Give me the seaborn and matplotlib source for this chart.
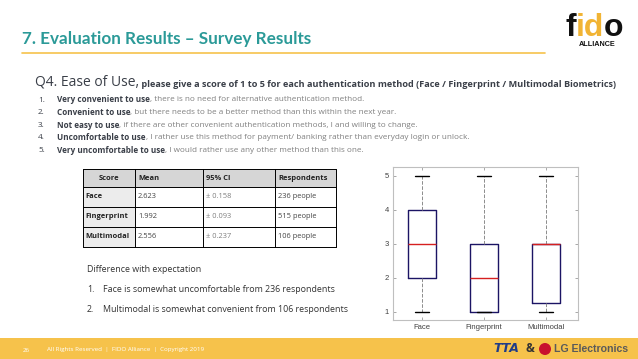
import numpy as np
import pandas as pd
import matplotlib.pyplot as plt
import seaborn as sns
from matplotlib.patches import Rectangle, Circle

# survey data
methods = ["Face", "Fingerprint", "Multimodal"]
means = ["2.623", "1.992", "2.556"]
ci = ["\u00b1 0.158", "\u00b1 0.093", "\u00b1 0.237"]
respondents = [236, 515, 106]

# five-number summaries of the box plot: min, Q1, median, Q3, max
face_scores = [1, 2, 3, 4, 5]
fingerprint_scores = [1, 1, 2, 3, 5]
multimodal_scores = [1, 1.25, 3, 3, 5]

score_labels = [
    ("Very convenient to use", ", there is no need for alternative authentication method."),
    ("Convenient to use", ", but there needs to be a better method than this within the next year."),
    ("Not easy to use", ", if there are other convenient authentication methods, I and willing to change."),
    ("Uncomfortable to use", ", I rather use this method for payment/ banking rather than everyday login or unlock."),
    ("Very uncomfortable to use", ", I would rather use any other method than this one."),
]

sns.set_style("white")
plt.rcParams["font.family"] = ["Open Sans", "DejaVu Sans"]

TEAL = "#2b9a98"
GOLD = "#f6c24b"
DARK = "#3a3f48"
GRAY = "#808080"

fig = plt.figure(figsize=(6.38, 3.59), dpi=100)
bg = fig.add_axes([0, 0, 1, 1])
bg.set_xlim(0, 638)
bg.set_ylim(359, 0)
bg.axis("off")


def run_text(x, y, parts, va="bottom"):
    # write pieces of text one after the other on a line
    prev = None
    for txt, kw in parts:
        if prev is None:
            prev = bg.text(x, y, txt, va=va, ha="left", **kw)
        else:
            prev = bg.annotate(txt, xy=(1, 0), xycoords=prev, va="bottom", ha="left", **kw)
    return prev


# header
bg.text(22, 39, "7. Evaluation Results \u2013 Survey Results", color=TEAL, fontsize=12.3,
        family="Lato", fontweight="bold", va="center", ha="left")
bg.plot([22, 545], [53, 53], color=GOLD, lw=1.2)

# fido logo
logo = dict(fontsize=23, fontweight="bold", family="Liberation Sans")
run_text(565, 43, [("f", dict(color="#111111", **logo)),
                   ("id", dict(color="#f1b434", **logo)),
                   ("o", dict(color="#111111", **logo))])
bg.text(597, 45, "ALLIANCE", fontsize=5.2, fontweight="bold", family="Liberation Sans",
        ha="center", va="center", color="#111111")

# question
run_text(35, 89, [("Q4. Ease of Use,", dict(color=DARK, fontsize=10)),
                  (" please give a score of 1 to 5 for each authentication method (Face / Fingerprint / Multimodal Biometrics)",
                   dict(color=DARK, fontsize=6.55, fontweight="bold"))])

for i, (bold, rest) in enumerate(score_labels):
    y = 100 + i * 12.6
    bg.text(38, y, f"{i + 1}.", fontsize=5.9, color=DARK, va="center", ha="left")
    t = bg.text(57, y, bold, fontsize=5.9, color=DARK, fontweight="bold", va="center", ha="left")
    bg.annotate(rest, xy=(1, 0.5), xycoords=t, fontsize=5.9, color=GRAY, va="center", ha="left")

# table
col_x = [83, 135, 203, 275, 336]
row_y = [169, 187, 207, 227, 247]
bg.add_patch(Rectangle((col_x[0], row_y[0]), col_x[-1] - col_x[0], row_y[1] - row_y[0],
                       facecolor="#d6d6d6", edgecolor="none"))
bg.add_patch(Rectangle((col_x[0], row_y[1]), col_x[1] - col_x[0], row_y[-1] - row_y[1],
                       facecolor="#ececec", edgecolor="none"))
for x in col_x:
    bg.plot([x, x], [row_y[0], row_y[-1]], color="black", lw=0.7)
for y in row_y:
    bg.plot([col_x[0], col_x[-1]], [y, y], color="black", lw=0.7)

headers = ["Score", "Mean", "95% CI", "Respondents"]
for j, h in enumerate(headers):
    if j == 0:
        bg.text((col_x[0] + col_x[1]) / 2, (row_y[0] + row_y[1]) / 2, h, fontsize=5.4,
                fontweight="bold", ha="center", va="center", color="#222222")
    else:
        bg.text(col_x[j] + 3, (row_y[0] + row_y[1]) / 2, h, fontsize=5.4,
                fontweight="bold", ha="left", va="center", color="#222222")
for i, m in enumerate(methods):
    yc = (row_y[i + 1] + row_y[i + 2]) / 2
    bg.text(col_x[0] + 2, yc, m, fontsize=5.4, fontweight="bold", ha="left", va="center", color="#222222")
    bg.text(col_x[1] + 3, yc, means[i], fontsize=5.4, ha="left", va="center", color="#444444")
    bg.text(col_x[2] + 3, yc, ci[i], fontsize=5.4, ha="left", va="center", color=GRAY)
    bg.text(col_x[3] + 3, yc, f"{respondents[i]} people", fontsize=5.4, ha="left", va="center", color="#444444")

# notes
note_kw = dict(fontsize=6.4, color="#333333", va="center")
bg.text(87, 270, "Difference with expectation", **note_kw)
bg.text(87, 290, "1.", **note_kw)
bg.text(103, 290, "Face is somewhat uncomfortable from 236 respondents", **note_kw)
bg.text(87, 309, "2.", **note_kw)
bg.text(103, 309, "Multimodal is somewhat convenient from 106 respondents", **note_kw)

# footer
bg.add_patch(Rectangle((0, 338), 638, 21, facecolor=GOLD, edgecolor="none"))
bg.text(23, 350, "26", fontsize=4.5, color="white", va="center")
bg.text(47, 350, "All Rights Reserved  |  FIDO Alliance  |  Copyright 2019", fontsize=4.5,
        color="white", va="center")
bg.text(506, 349, "TTA", fontsize=9, color="#1f3c88", fontweight="bold", style="italic",
        family="DejaVu Sans", ha="center", va="center")
bg.text(530, 349, "&", fontsize=8.5, color="#333333", fontweight="bold", ha="center", va="center")
bg.add_patch(Circle((545, 349), 6, facecolor="#c8102e", edgecolor="none"))
bg.text(554, 349, "LG Electronics", fontsize=7.6, color="#5a5a5a", fontweight="bold",
        family="Liberation Sans", ha="left", va="center")

# box plot
box_df = pd.DataFrame({
    "method": np.repeat(methods, 5),
    "score": face_scores + fingerprint_scores + multimodal_scores,
})
ax = fig.add_axes([393 / 638, 1 - 320 / 359, (578 - 393) / 638, (320 - 167) / 359])
sns.boxplot(data=box_df, x="method", y="score", ax=ax, width=0.45, fill=False,
            color="#1b1464", linewidth=1.0, showfliers=False,
            medianprops=dict(color="#d62020", linewidth=1.0),
            whiskerprops=dict(color="#8c8c8c", linestyle="--", linewidth=0.7),
            capprops=dict(color="black", linewidth=1.0))
ax.set_xlim(-0.47, 2.52)
ax.set_ylim(0.76, 5.26)
ax.set_yticks([1, 2, 3, 4, 5])
ax.set_xlabel("")
ax.set_ylabel("")
for s in ax.spines.values():
    s.set_color("#bfbfbf")
    s.set_linewidth(0.8)
ax.tick_params(direction="in", length=2, width=0.6, color="#9a9a9a", labelsize=5.5,
               labelcolor="#404040", top=True, right=True, left=True, bottom=True, pad=3)
for lab in ax.get_xticklabels() + ax.get_yticklabels():
    lab.set_family("Liberation Sans")

fig.savefig("out.png", dpi=100)
